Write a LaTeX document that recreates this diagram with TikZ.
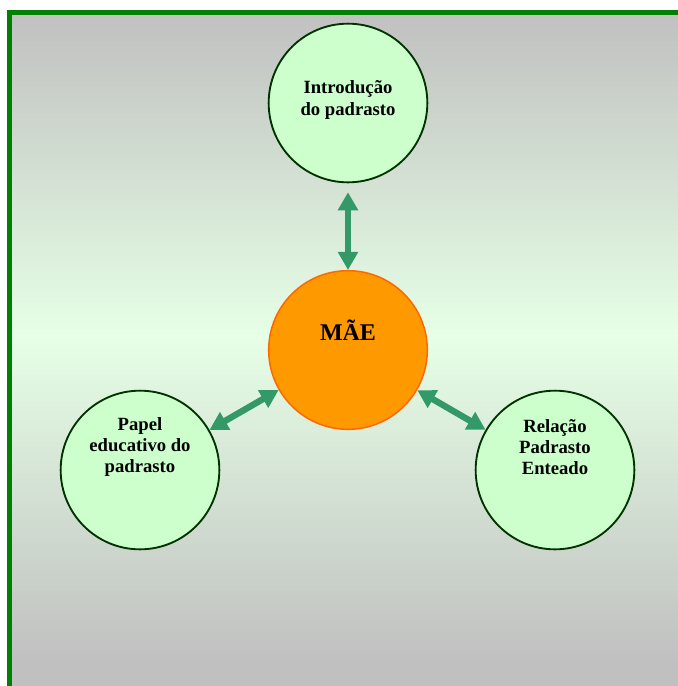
\documentclass[tikz,border=0pt]{standalone}
\usepackage{fontspec}
\setmainfont{Liberation Serif}
\usetikzlibrary{arrows.meta,positioning}

\definecolor{framegreen}{RGB}{0,128,0}
\definecolor{bggray}{RGB}{192,192,192}
\definecolor{bglight}{RGB}{230,255,230}
\definecolor{palegreen}{RGB}{204,255,204}
\definecolor{ringgreen}{RGB}{0,51,0}
\definecolor{motherfill}{RGB}{255,153,0}
\definecolor{motherring}{RGB}{255,102,0}
\definecolor{linkgreen}{RGB}{51,153,102}

\tikzset{
	topic/.style={circle,draw=ringgreen,fill=palegreen,line width=1.4pt,minimum size=119pt,inner sep=0pt},
	mother/.style={circle,draw=motherring,fill=motherfill,line width=1.1pt,minimum size=119pt,inner sep=0pt},
	topictext/.style={align=center,font=\fontsize{14}{16}\selectfont\bfseries},
	link/.style={draw=linkgreen,line width=4.8pt,{Triangle[width=14.5pt,length=13.5pt]}-{Triangle[width=14.5pt,length=13.5pt]}}
}

\begin{document}
\begin{tikzpicture}[x=0.75pt,y=-0.75pt]
		\useasboundingbox (0,0) rectangle (678,686);
		\clip (0,0) rectangle (678,686);
		% background and frame
		\shade[top color=bggray,bottom color=bggray,middle color=bglight] (9.7,12.3) rectangle (678,660);
		\fill[bggray] (9.7,659) rectangle (678,686);
		\draw[framegreen,line width=3.5pt] (690,12.3) -- (9.7,12.3) -- (9.7,700);
		% circles
		\node[topic] (intro) at (348,103) {};
		\node[mother] (mae) at (348,350) {};
		\node[topic] (papel) at (140,470) {};
		\node[topic] (relacao) at (555,470) {};
		\node[topictext] (introtxt) at (348,100) {Introdução\\do padrasto};
		\node[topictext,font=\fontsize{18}{20}\selectfont\bfseries] (maetxt) at (348,330) {MÃE};
		\node[topictext] (papeltxt) at (140,447) {Papel\\educativo do\\padrasto};
		\node[topictext] (relacaotxt) at (555,447) {Relação\\Padrasto\\Enteado};
		% links
		\draw[link,shorten <=6.75pt] (intro) -- (mae);
		\draw[link] (mae) -- (papel);
		\draw[link] (mae) -- (relacao);
	\end{tikzpicture}
\end{document}
